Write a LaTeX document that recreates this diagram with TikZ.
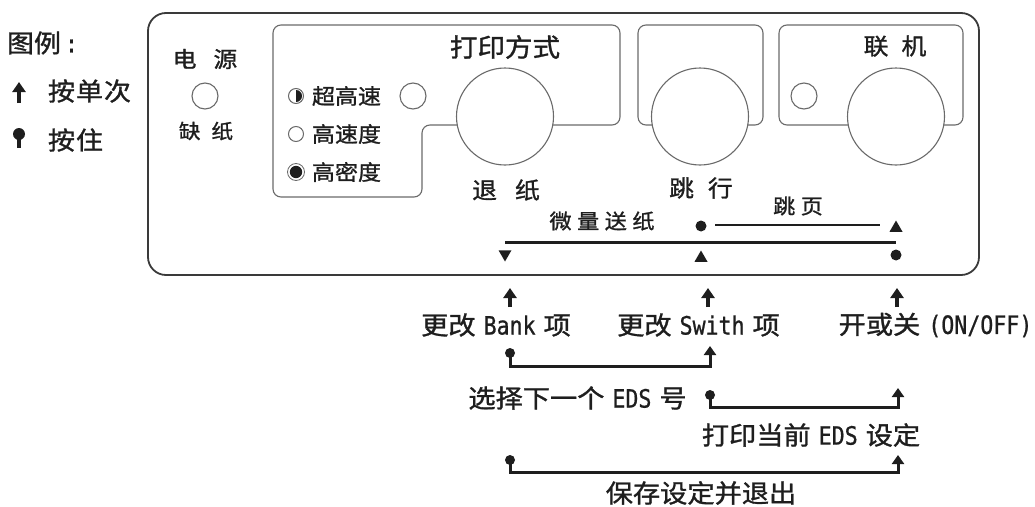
\documentclass[tikz,border=0pt]{standalone}
\usepackage{fontspec}
\setmainfont{Noto Sans CJK SC}[FakeStretch=1.08,FakeBold=1.2]
\newfontfamily\latmono[FakeStretch=0.857,FakeBold=0.8]{DejaVu Sans Mono}
\usetikzlibrary{arrows.meta,shapes.geometric}
\definecolor{ink}{HTML}{1E1E1E}
\definecolor{framec}{HTML}{3A3A3A}
\definecolor{thinc}{HTML}{6A6A6A}
\newcommand{\fsz}[1]{\fontsize{#1}{#1}\selectfont}
\newcommand{\lm}[1]{{\latmono #1}}
\newcommand{\wgap}{\kern8pt}
\begin{document}
\begin{tikzpicture}[x=1pt,y=-1pt,
  every node/.style={inner sep=0pt, outer sep=0pt, text=ink},
  rowlbl/.style={font=\fsz{25.2}},
  panelframe/.style={draw=framec, line width=1.8pt, rounded corners=18pt},
  boxline/.style={draw=thinc, line width=1.1pt, rounded corners=8pt},
  button/.style={circle, draw=thinc, fill=white, line width=1.1pt, minimum size=97pt},
  led/.style={circle, draw=thinc, fill=white, line width=1.1pt, minimum size=26pt},
  opt/.style={circle, draw=thinc, fill=white, line width=1pt, minimum size=15pt},
  tri/.style={regular polygon, regular polygon sides=3, fill=ink, minimum size=15pt},
  trid/.style={tri, shape border rotate=180},
  mdot/.style={circle, fill=ink, minimum size=11pt},
  press/.style={draw=ink, line width=3.5pt, -{Triangle[width=13pt,length=10pt]}},
  conn/.style={draw=ink, line width=3pt, line join=miter, -{Triangle[width=12pt,length=9pt]}},
  bar/.style={draw=ink, line width=3pt},
  thinbar/.style={draw=ink, line width=2.5pt}]
\useasboundingbox (0,0) rectangle (1035,506);

% legend
\node[anchor=west, font=\fsz{25}] (leg) at (7,43) {图例\kern4pt\lm{:}};
\draw[press] (19,103) -- (19,82);
\node[anchor=west, font=\fsz{25}] (legonce) at (48,91) {按\kern1pt 单\kern1pt 次};
\draw[draw=ink, line width=3.5pt] (19,134) -- (19,148);
\fill[ink] (19,134) circle (6);
\node[anchor=west, font=\fsz{25}] (leghold) at (48,140) {按\kern1pt 住};

% panel
\draw[panelframe] (148,13) rectangle (979,275);

% power
\node[font=\fsz{22}] (tpower) at (205,59) {电\kern17pt 源};
\node[led] (ledpower) at (205,96) {};
\node[font=\fsz{20}] (tpaper) at (206,131) {缺\kern11pt 纸};

% print mode box
\draw[boxline] (273,25) -- (620,25) -- (620,125) -- (422,125) -- (422,197) -- (273,197) -- cycle;
\node[font=\fsz{25.5}] (tmode) at (505,47) {打印方式};
\node[led] (ledmode) at (413,96) {};
\node[button] (btnexit) at (505,116.5) {};
\node[font=\fsz{23}] (texit) at (506,190) {退\kern18pt 纸};

\node[opt] (o1) at (296,96) {};
\fill[ink] (296,102) arc[start angle=90, end angle=-90, radius=6] -- cycle;
\node[anchor=west, font=\fsz{21.3}] (to1) at (312,96) {超高速};
\node[opt] (o2) at (296,134) {};
\node[anchor=west, font=\fsz{21.3}] (to2) at (312,134) {高速度};
\node[opt, minimum size=17pt, line width=0.8pt] (o3) at (296,172) {};
\fill[ink] (o3.center) circle (6.2);
\node[anchor=west, font=\fsz{21.3}] (to3) at (312,172) {高密度};

% line feed box
\draw[boxline] (638,25) rectangle (763,125);
\node[button] (btnlf) at (700,116.5) {};
\node[font=\fsz{23}] (tlf) at (701,188) {跳\kern14pt 行};

% online box
\draw[boxline] (779,25) rectangle (963,125);
\node[led] (ledonline) at (804,96) {};
\node[button] (btnonline) at (896,116.5) {};
\node[font=\fsz{23}] (tonline) at (895,46) {联\kern13pt 机};

% micro feed / form feed
\node[font=\fsz{20.5}] (tmicro) at (602,221) {微\kern5.5pt 量\kern5.5pt 送\kern5.5pt 纸};
\node[font=\fsz{20.5}] (tff) at (798,206) {跳\kern5.5pt 页};
\node[mdot] (d1) at (701,226) {};
\node[tri] (u1) at (896,228) {};
\draw[thinbar] (715,225) -- (880,225);
\coordinate (barL) at (505,242);
\coordinate (barR) at (896,242);
\draw[bar] (barL) -- (barR);
\node[trid] (m1) at (505,254) {};
\node[tri] (m2) at (701,258) {};
\node[mdot] (m3) at (896,255) {};

% arrows under panel
\coordinate (a1b) at (510,307); \coordinate (a1t) at (510,288);
\coordinate (a2b) at (708,307); \coordinate (a2t) at (708,288);
\coordinate (a3b) at (897,307); \coordinate (a3t) at (897,288);
\draw[press] (a1b) -- (a1t);
\draw[press] (a2b) -- (a2t);
\draw[press] (a3b) -- (a3t);

\node[rowlbl] (lbank) at (496,325) {更改\wgap\lm{Bank}\wgap 项};
\node[rowlbl] (lswith) at (698.5,325) {更改\wgap\lm{Swith}\wgap 项};
\node[rowlbl] (lonoff) at (935.5,325) {开或关\wgap\lm{(ON/OFF)}};

% combination connectors
\coordinate (c1s) at (510,353); \coordinate (c1e) at (710,346);
\draw[conn] (c1s) -- ++(0,13) -| (c1e);
\fill[ink] (c1s) circle (5);
\node[rowlbl] (lnext) at (577.5,398) {选择下一个\wgap\lm{EDS}\wgap 号};

\coordinate (c2s) at (710,395); \coordinate (c2e) at (898,388);
\draw[conn] (c2s) -- ++(0,12) -| (c2e);
\fill[ink] (c2s) circle (5);
\node[rowlbl] (lprint) at (811,435) {打印当前\wgap\lm{EDS}\wgap 设定};

\coordinate (c3s) at (510,460); \coordinate (c3e) at (898,455);
\draw[conn] (c3s) -- ++(0,12) -| (c3e);
\fill[ink] (c3s) circle (5);
\node[rowlbl] (lsave) at (701,493) {保存设定并退出};
\end{tikzpicture}
\end{document}
